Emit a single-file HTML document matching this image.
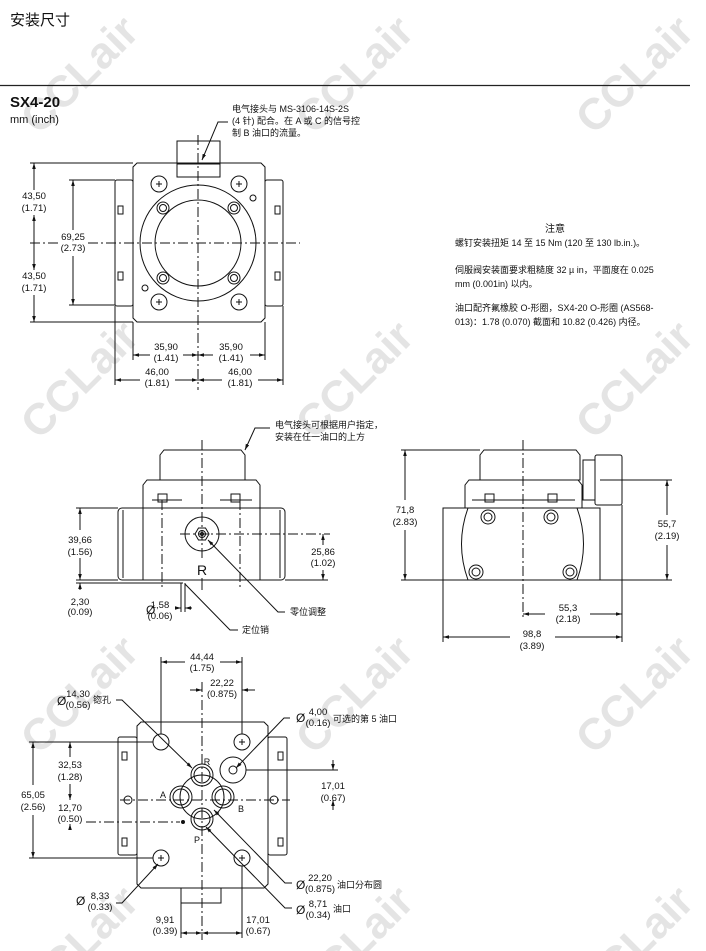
<!DOCTYPE html>
<html><head><meta charset="utf-8"><style>
html,body{margin:0;padding:0;background:#fff;width:706px;height:951px;overflow:hidden;}
svg{display:block;}
text{font-family:"Liberation Sans","Noto Sans CJK SC",sans-serif;fill:#111;}
.d{font-size:9.5px;text-anchor:middle;}
.n{font-size:9px;}
.wm{font-family:"Liberation Sans",sans-serif;font-weight:bold;font-size:44px;fill:#e4e4e4;text-anchor:middle;}
</style></head><body>
<svg width="706" height="951" viewBox="0 0 706 951" xmlns="http://www.w3.org/2000/svg">
<defs>
<marker id="a" viewBox="0 0 10 10" refX="10" refY="5" markerWidth="6" markerHeight="6" orient="auto-start-reverse"><path d="M0,2L10,5L0,8z" fill="#111"/></marker>
</defs>
<g>
<text class="wm" transform="translate(90,85) rotate(-45)">CCLair</text>
<text class="wm" transform="translate(365,85) rotate(-45)">CCLair</text>
<text class="wm" transform="translate(645,85) rotate(-45)">CCLair</text>
<text class="wm" transform="translate(90,390) rotate(-45)">CCLair</text>
<text class="wm" transform="translate(365,390) rotate(-45)">CCLair</text>
<text class="wm" transform="translate(645,390) rotate(-45)">CCLair</text>
<text class="wm" transform="translate(90,705) rotate(-45)">CCLair</text>
<text class="wm" transform="translate(365,705) rotate(-45)">CCLair</text>
<text class="wm" transform="translate(645,705) rotate(-45)">CCLair</text>
<text class="wm" transform="translate(90,955) rotate(-45)">CCLair</text>
<text class="wm" transform="translate(365,955) rotate(-45)">CCLair</text>
<text class="wm" transform="translate(645,955) rotate(-45)">CCLair</text>
</g>
<text x="10" y="25" style="font-size:15px">安装尺寸</text>
<line x1="0" y1="85.5" x2="690" y2="85.5" stroke="#222" stroke-width="1.2"/>
<text x="10" y="107" style="font-size:15px;font-weight:bold">SX4-20</text>
<text x="10" y="123" style="font-size:11px">mm (inch)</text>

<g fill="none" stroke="#111" stroke-width="1">
<!-- VIEW 1 -->
<rect x="177" y="141" width="43" height="23"/>
<rect x="177" y="163" width="43" height="14"/>
<path d="M137,163H261L265,167V318L261,322H137L133,318V167Z"/>
<rect x="115" y="180" width="18" height="126" rx="2"/>
<rect x="265" y="180" width="18" height="126" rx="2"/>
<rect x="118" y="206" width="5" height="8"/><rect x="118" y="272" width="5" height="8"/>
<rect x="275" y="206" width="5" height="8"/><rect x="275" y="272" width="5" height="8"/>
<circle cx="198" cy="243" r="58"/>
<circle cx="198" cy="243" r="43"/>
<circle cx="159" cy="184" r="8"/><circle cx="239" cy="184" r="8"/>
<circle cx="159" cy="302" r="8"/><circle cx="239" cy="302" r="8"/>
<circle cx="163" cy="208" r="6"/><circle cx="163" cy="208" r="3.5"/>
<circle cx="234" cy="208" r="6"/><circle cx="234" cy="208" r="3.5"/>
<circle cx="163" cy="278" r="6"/><circle cx="163" cy="278" r="3.5"/>
<circle cx="234" cy="278" r="6"/><circle cx="234" cy="278" r="3.5"/>
<circle cx="253" cy="198" r="3"/><circle cx="145" cy="288" r="3"/>
<path d="M156,184h6M159,181v6M236,184h6M239,181v6M156,302h6M159,299v6M236,302h6M239,299v6"/>
<line x1="198" y1="135" x2="198" y2="390" stroke-dasharray="10,3,2,3"/>
<line x1="30" y1="243" x2="58" y2="243" stroke-dasharray="10,3,2,3"/>
<line x1="88" y1="243" x2="300" y2="243" stroke-dasharray="10,3,2,3"/>
<line x1="30" y1="163" x2="133" y2="163"/><line x1="30" y1="322" x2="133" y2="322"/>
<line x1="34" y1="163" x2="34" y2="190" marker-start="url(#a)"/><line x1="34" y1="215" x2="34" y2="270" marker-start="url(#a)" marker-end="url(#a)"/><line x1="34" y1="295" x2="34" y2="322" marker-end="url(#a)"/>
<line x1="69" y1="180" x2="115" y2="180"/><line x1="69" y1="305" x2="115" y2="305"/>
<line x1="73" y1="180" x2="73" y2="230" marker-start="url(#a)"/><line x1="73" y1="256" x2="73" y2="305" marker-end="url(#a)"/>
<line x1="133" y1="322" x2="133" y2="360"/><line x1="265" y1="322" x2="265" y2="360"/>
<line x1="115" y1="306" x2="115" y2="385"/><line x1="283" y1="306" x2="283" y2="385"/>
<line x1="133" y1="355" x2="150" y2="355" marker-start="url(#a)"/><line x1="183" y1="355" x2="198" y2="355" marker-end="url(#a)"/>
<line x1="198" y1="355" x2="213" y2="355" marker-start="url(#a)"/><line x1="250" y1="355" x2="265" y2="355" marker-end="url(#a)"/>
<line x1="115" y1="380" x2="140" y2="380" marker-start="url(#a)"/><line x1="175" y1="380" x2="198" y2="380" marker-end="url(#a)"/>
<line x1="198" y1="380" x2="222" y2="380" marker-start="url(#a)"/><line x1="258" y1="380" x2="283" y2="380" marker-end="url(#a)"/>
<polyline points="228,122 218,122 202,160" marker-end="url(#a)"/>

<!-- VIEW 2 -->
<path d="M164,450H241L245,455V480H160V455Z"/>
<path d="M147,480H256L260,485V508H143V485Z"/>
<rect x="118" y="508" width="167" height="72" rx="4"/>
<line x1="143" y1="508" x2="143" y2="580"/><line x1="260" y1="508" x2="260" y2="580"/>
<line x1="123" y1="510" x2="123" y2="578"/><line x1="280" y1="510" x2="280" y2="578"/>
<rect x="158" y="494" width="9" height="8"/><rect x="231" y="494" width="9" height="8"/>
<line x1="152" y1="500" x2="182" y2="500"/><line x1="220" y1="500" x2="252" y2="500"/>
<circle cx="202" cy="534" r="17"/>
<polygon points="209,534 205.5,540 198.5,540 195,534 198.5,528 205.5,528"/>
<circle cx="202" cy="534" r="3.5"/><circle cx="202" cy="534" r="1.5"/>
<line x1="202" y1="440" x2="202" y2="560" stroke-dasharray="10,3,2,3"/>
<line x1="202" y1="578" x2="202" y2="590" />
<line x1="162" y1="500" x2="162" y2="590" stroke-dasharray="10,3,2,3"/><line x1="240" y1="500" x2="240" y2="590" stroke-dasharray="10,3,2,3"/>
<line x1="180" y1="534" x2="330" y2="534" stroke-dasharray="10,3,2,3"/>
<line x1="76" y1="508" x2="118" y2="508"/><line x1="76" y1="580" x2="118" y2="580"/><line x1="76" y1="583" x2="183" y2="583"/>
<line x1="80" y1="508" x2="80" y2="530" marker-start="url(#a)"/><line x1="80" y1="558" x2="80" y2="580" marker-end="url(#a)"/>
<line x1="80" y1="590" x2="80" y2="583" marker-end="url(#a)"/>
<line x1="285" y1="580" x2="328" y2="580"/>
<line x1="323" y1="534" x2="323" y2="545" marker-start="url(#a)"/><line x1="323" y1="570" x2="323" y2="580" marker-end="url(#a)"/>
<line x1="181" y1="583" x2="181" y2="612"/><line x1="185" y1="583" x2="185" y2="612"/>
<line x1="175" y1="608" x2="181" y2="608" marker-end="url(#a)"/><line x1="192" y1="608" x2="185" y2="608" marker-end="url(#a)"/>
<polyline points="285,612 278,612 208,540" marker-end="url(#a)"/>
<polyline points="238,630 230,630 185,584"/>
<polyline points="270,428 255,428 245,450" marker-end="url(#a)"/>

<!-- VIEW 3 -->
<path d="M484,450H576L580,455V480H480V455Z"/>
<path d="M469,480H578L582,485V508H465V485Z"/>
<rect x="443" y="508" width="157" height="72"/>
<path d="M468,508H577Q590,544 577,580H468Q455,544 468,508Z"/>
<rect x="583" y="460" width="12" height="40"/><rect x="595" y="455" width="27" height="50" rx="2"/>
<rect x="485" y="494" width="9" height="8"/><rect x="548" y="494" width="9" height="8"/>
<line x1="472" y1="500" x2="575" y2="500"/>
<circle cx="488" cy="517" r="7"/><circle cx="488" cy="517" r="4"/>
<circle cx="551" cy="517" r="7"/><circle cx="551" cy="517" r="4"/>
<circle cx="476" cy="572" r="7"/><circle cx="476" cy="572" r="4"/>
<circle cx="570" cy="572" r="7"/><circle cx="570" cy="572" r="4"/>
<line x1="523" y1="440" x2="523" y2="620" stroke-dasharray="10,3,2,3"/>
<line x1="401" y1="450" x2="480" y2="450"/><line x1="401" y1="580" x2="443" y2="580"/>
<line x1="405" y1="450" x2="405" y2="500" marker-start="url(#a)"/><line x1="405" y1="530" x2="405" y2="580" marker-end="url(#a)"/>
<line x1="600" y1="480" x2="672" y2="480"/><line x1="600" y1="580" x2="672" y2="580"/>
<line x1="667" y1="480" x2="667" y2="515" marker-start="url(#a)"/><line x1="667" y1="545" x2="667" y2="580" marker-end="url(#a)"/>
<line x1="443" y1="580" x2="443" y2="642"/><line x1="622" y1="505" x2="622" y2="642"/>
<line x1="523" y1="614" x2="545" y2="614" marker-start="url(#a)"/><line x1="590" y1="614" x2="622" y2="614" marker-end="url(#a)"/>
<line x1="443" y1="637" x2="510" y2="637" marker-start="url(#a)"/><line x1="555" y1="637" x2="622" y2="637" marker-end="url(#a)"/>

<!-- VIEW 4 -->
<path d="M141,722H264L268,726V884L264,888H141L137,884V726Z"/>
<rect x="181" y="888" width="40" height="15"/>
<rect x="118" y="737" width="19" height="118" rx="2"/><rect x="268" y="737" width="19" height="118" rx="2"/>
<rect x="122" y="752" width="5" height="8"/><rect x="122" y="838" width="5" height="8"/>
<rect x="278" y="752" width="5" height="8"/><rect x="278" y="838" width="5" height="8"/>
<circle cx="128" cy="800" r="4"/><circle cx="274" cy="800" r="4"/>
<circle cx="202" cy="797" r="22"/>
<circle cx="202" cy="775" r="11"/><circle cx="202" cy="775" r="8"/>
<circle cx="181" cy="797" r="11"/><circle cx="181" cy="797" r="8"/>
<circle cx="223" cy="797" r="11"/><circle cx="223" cy="797" r="8"/>
<circle cx="202" cy="819" r="11"/><circle cx="202" cy="819" r="8"/>
<circle cx="161" cy="742" r="8"/><circle cx="242" cy="742" r="8"/>
<circle cx="161" cy="858" r="8"/><circle cx="242" cy="858" r="8"/>
<path d="M239,742h6M242,739v6M158,858h6M161,855v6M239,858h6M242,855v6"/>
<circle cx="233" cy="770" r="13"/><circle cx="233" cy="770" r="4"/>
<circle cx="183" cy="822" r="1.5" fill="#111"/>
<line x1="202" y1="682" x2="202" y2="940" stroke-dasharray="10,3,2,3"/>
<line x1="120" y1="800" x2="290" y2="800" stroke-dasharray="10,3,2,3"/>
<line x1="161" y1="657" x2="161" y2="734"/><line x1="242" y1="657" x2="242" y2="734"/>
<line x1="161" y1="662" x2="185" y2="662" marker-start="url(#a)"/><line x1="220" y1="662" x2="242" y2="662" marker-end="url(#a)"/>
<line x1="190" y1="690" x2="202" y2="690" marker-end="url(#a)"/><line x1="255" y1="690" x2="242" y2="690" marker-end="url(#a)"/>
<line x1="29" y1="742" x2="153" y2="742"/><line x1="29" y1="858" x2="153" y2="858"/>
<line x1="33" y1="742" x2="33" y2="785" marker-start="url(#a)"/><line x1="33" y1="815" x2="33" y2="858" marker-end="url(#a)"/>
<line x1="70" y1="742" x2="70" y2="757" marker-start="url(#a)"/><line x1="70" y1="784" x2="70" y2="800" marker-end="url(#a)"/>
<line x1="86" y1="822" x2="180" y2="822" stroke-dasharray="10,3,2,3"/>
<line x1="70" y1="830" x2="70" y2="824" marker-end="url(#a)"/>
<line x1="246" y1="770" x2="338" y2="770"/>
<line x1="333" y1="760" x2="333" y2="770" marker-end="url(#a)"/><line x1="333" y1="810" x2="333" y2="800" marker-end="url(#a)"/>
<line x1="181" y1="890" x2="181" y2="938"/><line x1="242" y1="866" x2="242" y2="938"/>
<line x1="181" y1="933" x2="202" y2="933" marker-start="url(#a)" marker-end="url(#a)"/>
<line x1="202" y1="933" x2="242" y2="933" marker-start="url(#a)" marker-end="url(#a)"/>
<polyline points="116,700 122,700 192,768" marker-end="url(#a)"/>
<polyline points="290,718 284,718 236,768" marker-end="url(#a)"/>
<polyline points="292,883 285,883 214,810" marker-end="url(#a)"/>
<polyline points="292,908 285,908 206,827" marker-end="url(#a)"/>
<polyline points="116,903 122,903 158,864" marker-end="url(#a)"/>
</g>

<text class="n" x="232" y="112">电气接头与 MS-3106-14S-2S</text>
<text class="n" x="232" y="124">(4 针) 配合。在 A 或 C 的信号控</text>
<text class="n" x="232" y="136">制 B 油口的流量。</text>
<text class="d" x="34" y="199">43,50</text><text class="d" x="34" y="211">(1.71)</text>
<text class="d" x="73" y="240">69,25</text><text class="d" x="73" y="251">(2.73)</text>
<text class="d" x="34" y="279">43,50</text><text class="d" x="34" y="291">(1.71)</text>
<text class="d" x="166" y="350">35,90</text><text class="d" x="166" y="361">(1.41)</text>
<text class="d" x="231" y="350">35,90</text><text class="d" x="231" y="361">(1.41)</text>
<text class="d" x="157" y="375">46,00</text><text class="d" x="157" y="386">(1.81)</text>
<text class="d" x="240" y="375">46,00</text><text class="d" x="240" y="386">(1.81)</text>
<text x="555" y="232" style="font-size:10px;text-anchor:middle">注意</text>
<text class="n" x="455" y="246">螺钉安装扭矩 14 至 15 Nm (120 至 130 lb.in.)。</text>
<text class="n" x="455" y="273">伺服阀安装面要求粗糙度 32 µ in，平面度在 0.025</text>
<text class="n" x="455" y="287">mm (0.001in) 以内。</text>
<text class="n" x="455" y="311">油口配齐氟橡胶 O-形圈，SX4-20 O-形圈 (AS568-</text>
<text class="n" x="455" y="325">013)：1.78 (0.070) 截面和 10.82 (0.426) 内径。</text>
<text class="n" x="275" y="428">电气接头可根据用户指定，</text>
<text class="n" x="275" y="440">安装在任一油口的上方</text>
<text x="202" y="575" style="font-size:14px;text-anchor:middle">R</text>
<text class="d" x="80" y="543">39,66</text><text class="d" x="80" y="555">(1.56)</text>
<text class="d" x="323" y="555">25,86</text><text class="d" x="323" y="566">(1.02)</text>
<text class="d" x="80" y="605">2,30</text><text class="d" x="80" y="615">(0.09)</text>
<text x="146" y="614" style="font-size:12px">Ø</text>
<text class="d" x="160" y="608">1,58</text><text class="d" x="160" y="619">(0.06)</text>
<text class="n" x="290" y="615">零位调整</text>
<text class="n" x="242" y="633">定位销</text>
<text class="d" x="405" y="513">71,8</text><text class="d" x="405" y="525">(2.83)</text>
<text class="d" x="667" y="527">55,7</text><text class="d" x="667" y="539">(2.19)</text>
<text class="d" x="568" y="611">55,3</text><text class="d" x="568" y="622">(2.18)</text>
<text class="d" x="532" y="637">98,8</text><text class="d" x="532" y="649">(3.89)</text>
<text class="d" x="202" y="660">44,44</text><text class="d" x="202" y="671">(1.75)</text>
<text class="d" x="222" y="686">22,22</text><text class="d" x="222" y="697">(0.875)</text>
<text x="57" y="705" style="font-size:12px">Ø</text>
<text class="d" x="78" y="697">14,30</text><text class="d" x="78" y="708">(0.56)</text><text class="n" x="93" y="703">锪孔</text>
<text x="296" y="722" style="font-size:12px">Ø</text>
<text class="d" x="318" y="715">4,00</text><text class="d" x="318" y="726">(0.16)</text><text class="n" x="333" y="722">可选的第 5 油口</text>
<text class="d" x="70" y="768">32,53</text><text class="d" x="70" y="780">(1.28)</text>
<text class="d" x="33" y="798">65,05</text><text class="d" x="33" y="810">(2.56)</text>
<text class="d" x="70" y="811">12,70</text><text class="d" x="70" y="822">(0.50)</text>
<text class="d" x="333" y="789">17,01</text><text class="d" x="333" y="801">(0.67)</text>
<text x="207" y="765" style="font-size:9px;text-anchor:middle">R</text>
<text x="163" y="798" style="font-size:9px;text-anchor:middle">A</text>
<text x="241" y="812" style="font-size:9px;text-anchor:middle">B</text>
<text x="197" y="843" style="font-size:9px;text-anchor:middle">P</text>
<text x="296" y="889" style="font-size:12px">Ø</text>
<text class="d" x="320" y="881">22,20</text><text class="d" x="320" y="892">(0.875)</text><text class="n" x="337" y="888">油口分布圆</text>
<text x="296" y="914" style="font-size:12px">Ø</text>
<text class="d" x="318" y="907">8,71</text><text class="d" x="318" y="918">(0.34)</text><text class="n" x="333" y="912">油口</text>
<text x="76" y="905" style="font-size:12px">Ø</text>
<text class="d" x="100" y="899">8,33</text><text class="d" x="100" y="910">(0.33)</text>
<text class="d" x="165" y="923">9,91</text><text class="d" x="165" y="934">(0.39)</text>
<text class="d" x="258" y="923">17,01</text><text class="d" x="258" y="934">(0.67)</text>
</svg>
</body></html>
